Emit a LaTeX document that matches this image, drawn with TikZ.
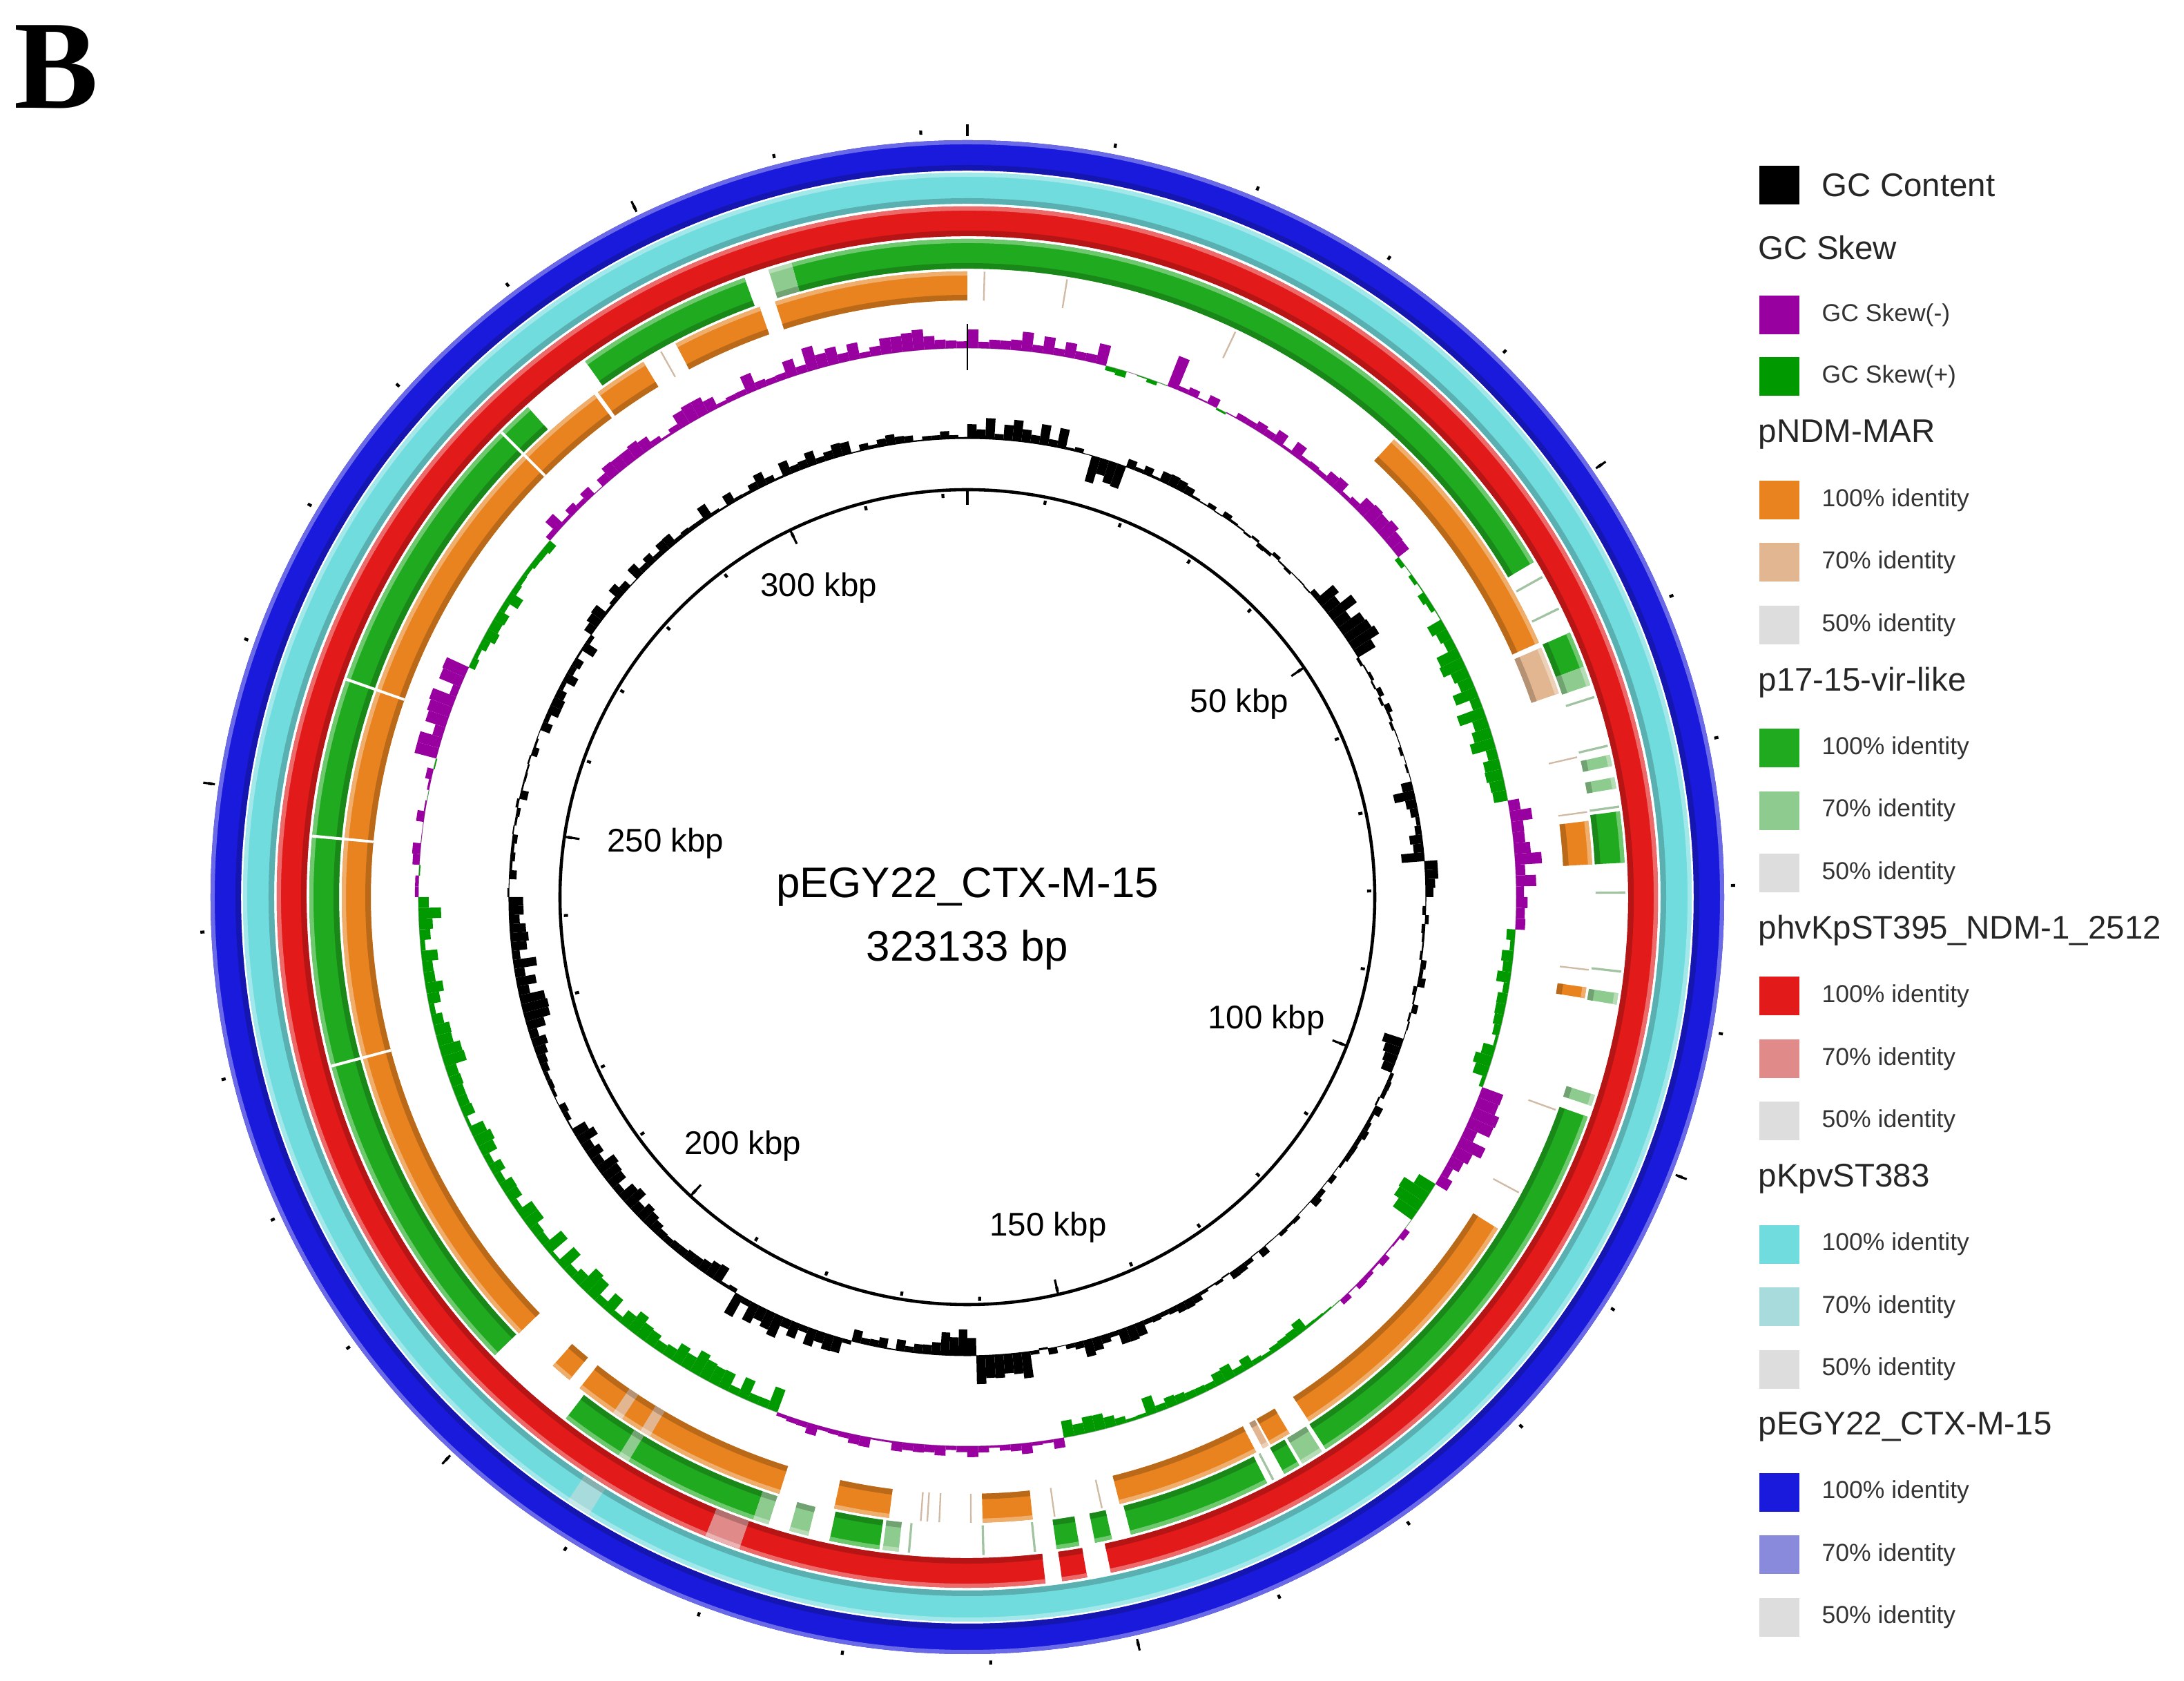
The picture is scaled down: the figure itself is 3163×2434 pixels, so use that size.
\documentclass[tikz,border=0pt]{standalone}
\usepackage{fontspec}
\setmainfont{Liberation Sans}
\newfontfamily\panelfont{Liberation Serif}

\definecolor{orng}{RGB}{232,131,31}
\definecolor{orng70}{RGB}{226,182,144}
\definecolor{grn}{RGB}{32,170,32}
\definecolor{grn70}{RGB}{142,203,142}
\definecolor{rd}{RGB}{226,26,26}
\definecolor{rd70}{RGB}{224,138,138}
\definecolor{cyn}{RGB}{112,220,222}
\definecolor{cyn70}{RGB}{168,220,220}
\definecolor{blu}{RGB}{26,26,220}
\definecolor{blu70}{RGB}{138,138,220}
\definecolor{gry50}{RGB}{221,221,221}
\definecolor{skneg}{RGB}{153,0,160}
\definecolor{skpos}{RGB}{0,153,0}

% annular sector: inner r, outer r, from, to (deg clockwise from top), colour
\newcommand{\band}[5]{%
  \pgfmathsetmacro\bnR{#1}\pgfmathsetmacro\bnS{#2}%
  \pgfmathsetmacro\bnA{90-(#3)}\pgfmathsetmacro\bnB{90-(#4)}%
  \fill[#5] (\bnA:\bnR) arc[start angle=\bnA, end angle=\bnB, radius=\bnR]
    -- (\bnB:\bnS) arc[start angle=\bnB, end angle=\bnA, radius=\bnS] -- cycle;}
% ring segment with light outer edge and dark inner edge
\newcommand{\seg}[5]{%
  \band{#1}{#2}{#3}{#4}{#5}%
  \band{#2-6}{#2}{#3}{#4}{#5!65!white}%
  \band{#1}{#1+8}{#3}{#4}{#5!80!black}}

\tikzset{legbox/.style={inner sep=0, minimum width=0.58cm, minimum height=0.56cm}}
\tikzset{leghead/.style={anchor=west, inner sep=0, text=black!85,
                         font=\fontsize{13.5}{16}\selectfont}}
\tikzset{legtxt/.style={anchor=west, inner sep=0, text=black!80,
                        font=\fontsize{10.1}{12}\selectfont}}
\tikzset{kbplbl/.style={inner sep=0, font=\fontsize{13.5}{16}\selectfont}}
\tikzset{ctrtxt/.style={anchor=base, inner sep=0, font=\fontsize{17.6}{20}\selectfont}}

\begin{document}
\begin{tikzpicture}[x=0.01cm, y=0.01cm, line cap=butt]
  \useasboundingbox (-1401,-1135) rectangle (1762,1299);

  % pEGY22_CTX-M-15 (blue) and pKpvST383 (cyan)
  \seg{1052}{1096}{0}{360}{blu}
  \seg{1004}{1049}{0}{360}{cyn}
  \seg{1004}{1049}{211.5}{213.5}{cyn70}

  % phvKpST395_NDM-1_2512 (red)
  \seg{957}{1000}{173.5}{528}{rd}
  \seg{957}{1000}{170}{172.1}{rd}
  \seg{957}{1000}{199.3}{202.3}{rd70}

  % p17-15-vir-like (green)
  \foreach \a/\b in {344.5/419.4, 324.5/340.2, 225.9/318.1, 199/217.6,
                     187.7/192.1, 170.2/172.2, 167.3/168.8, 152.9/165.6,
                     149.7/151.2, 109.5/147, 82.5/87, 66.3/69.5}
    \seg{910}{953}{\a}{\b}{grn};
  \foreach \a/\b in {342.4/344.5, 197.6/199, 194/195.7, 186/187.4, 147.4/149.4,
                     107.5/108.5, 98.4/99.4, 79.5/80.5, 77.5/78.5, 69.5/71.2,
                     211/212}
    \seg{910}{953}{\a}{\b}{grn70};
  \foreach \p in {60.8, 63.9, 72.2, 76.6, 82.0, 89.5, 96.4, 152.2, 174.0, 178.5, 185.0}
    \band{910}{953}{\p}{\p+0.2}{grn!45!gray!55};

  % pNDM-MAR (orange)
  \foreach \a/\b in {342.1/360, 332.2/340.6, 323.8/328.8, 225.8/323.4, 219.5/221.5,
                     197.5/218.3, 187.2/192.3, 174/178.6, 152.5/165.9, 149/151,
                     122/146.9, 98.3/99.3, 83/87, 43/66}
    \seg{864}{906}{\a}{\b}{orng};
  \foreach \a/\b in {66.5/71, 151.2/151.8, 210.5/211.5, 213.5/214.5}
    \seg{864}{906}{\a}{\b}{orng70};
  \foreach \p in {1.5, 9.1, 25.3, 77, 82.1, 96.6, 109.8, 118.1, 167.5, 171.9,
                  179.6, 182.5, 183.6, 184.2, 330.6}
    \band{864}{906}{\p}{\p+0.15}{orng!40!gray!55};

  % white joins across the inner rings
  \foreach \p in {255, 275.2, 289.2, 314.8}
    \band{864}{953}{\p}{\p+0.25}{white};

  % GC skew
  \draw[gray!70, line width=0.3pt] (0,0) circle[radius=795];
  \pgfmathsetseed{31}
  \foreach \s/\e/\m/\d in {0/15/20/12, 15/21/-5/6, 21/23/45/5, 23/30/5/8, 30/45/10/10,
                           45/52/20/12, 52/60/-5/8, 60/80/-25/15, 80/93/25/15,
                           93/110/-15/12, 110/122/25/15, 122/126/-35/10, 126/140/5/10,
                           140/150/-10/10, 150/170/-15/12, 170/200/8/8, 200/245/-20/15,
                           245/270/-18/15, 270/285/5/8, 285/295/25/15, 295/310/-15/12,
                           310/330/12/12, 330/345/20/15, 345/360/18/12}{
    \pgfmathtruncatemacro\ia{round(\s/1.125)}
    \pgfmathtruncatemacro\ib{round(\e/1.125)-1}
    \foreach \i in {\ia,...,\ib}{
      \pgfmathsetmacro\v{\m+\d*rand}
      \ifdim\v pt>0pt \def\barc{skneg}\else\def\barc{skpos}\fi
      \band{795}{795+\v}{\i*1.125}{\i*1.125+1.125}{\barc}
    }
  }
  \draw[line width=0.8pt] (90:763) -- (90:830);

  % GC content
  \draw[black, line width=0.3pt] (0,0) circle[radius=664];
  \foreach \s/\e/\m/\d in {0/12/20/12, 12/16/3/6, 16/20/-25/15, 20/32/10/10, 32/50/2/8,
                           50/58/30/15, 58/75/3/8, 75/85/-18/15, 85/90/10/10, 90/108/3/8,
                           108/112/-20/10, 112/150/5/7, 150/165/15/10, 165/172/5/8,
                           172/179/40/15, 179/183/-30/10, 183/195/-10/10, 195/210/20/15,
                           210/225/-15/12, 225/240/-20/12, 240/250/-5/8, 250/270/-25/15,
                           270/290/-3/8, 290/305/-10/10, 305/325/10/10, 325/345/12/10,
                           345/360/8/8}{
    \pgfmathtruncatemacro\ia{round(\s/1.125)}
    \pgfmathtruncatemacro\ib{round(\e/1.125)-1}
    \foreach \i in {\ia,...,\ib}{
      \pgfmathsetmacro\v{\m+\d*rand}
      \band{664}{664+\v}{\i*1.125}{\i*1.125+1.125}{black}
    }
  }

  % backbone circle and ticks (every 10 kbp)
  \draw[line width=1.3pt] (0,0) circle[radius=590];
  \foreach \k in {0,...,32}{
    \pgfmathsetmacro\ta{90-\k*11.14093}
    \draw[line width=1.2pt] (\ta:1106) -- (\ta:1112);
    \draw[line width=1.2pt] (\ta:579) -- (\ta:585);
  }
  \foreach \k in {0,5,...,30}{
    \pgfmathsetmacro\ta{90-\k*11.14093}
    \draw[line width=0.9pt] (\ta:1102) -- (\ta:1119);
    \draw[line width=0.9pt] (\ta:568) -- (\ta:590);
  }

  % scale labels
  \node[kbplbl] (k300) at (-215,448) {300 kbp};
  \node[kbplbl] (k50) at (394,280) {50 kbp};
  \node[kbplbl] (k250) at (-437,78) {250 kbp};
  \node[kbplbl] (k100) at (433,-178) {100 kbp};
  \node[kbplbl] (k200) at (-325,-360) {200 kbp};
  \node[kbplbl] (k150) at (117,-478) {150 kbp};

  % plasmid name and size
  \node[ctrtxt] (plname) at (0,-1) {pEGY22\_CTX-M-15};
  \node[ctrtxt] (plsize) at (0,-93) {323133 bp};

  % panel letter
  \node[anchor=base west, inner sep=0, font=\fontsize{52}{60}\selectfont\panelfont\bfseries]
    (panel) at (-1381,1142) {B};

  % legend
  \node[legbox, fill=black] (boxgc) at (1176,1031) {};
  \node[leghead] (txtgc) at (1237,1031) {GC Content};
  \node[leghead] (hdskew) at (1145,940) {GC Skew};
  \node[legbox, fill=skneg] (boxneg) at (1176,843) {};
  \node[legtxt] (txtneg) at (1237,843) {GC Skew(-)};
  \node[legbox, fill=skpos] (boxpos) at (1176,754) {};
  \node[legtxt] (txtpos) at (1237,754) {GC Skew(+)};
  \foreach \name/\col/\k in {pNDM-MAR/orng/0, p17-15-vir-like/grn/1,
                             phvKpST395\_NDM-1\_2512/rd/2, pKpvST383/cyn/3,
                             pEGY22\_CTX-M-15/blu/4}{
    \pgfmathsetmacro\hy{670-359.2*\k}
    \node[leghead] (hd\k) at (1145,\hy) {\name};
    \foreach \pc/\fc/\j in {100/\col/0, 70/\col70/1, 50/gry50/2}{
      \pgfmathsetmacro\iy{\hy-95-90.5*\j}
      \node[legbox, fill=\fc] (box\k\j) at (1176,\iy) {};
      \node[legtxt] (txt\k\j) at (1237,\iy) {\pc\% identity};
    }
  }
\end{tikzpicture}
\end{document}
